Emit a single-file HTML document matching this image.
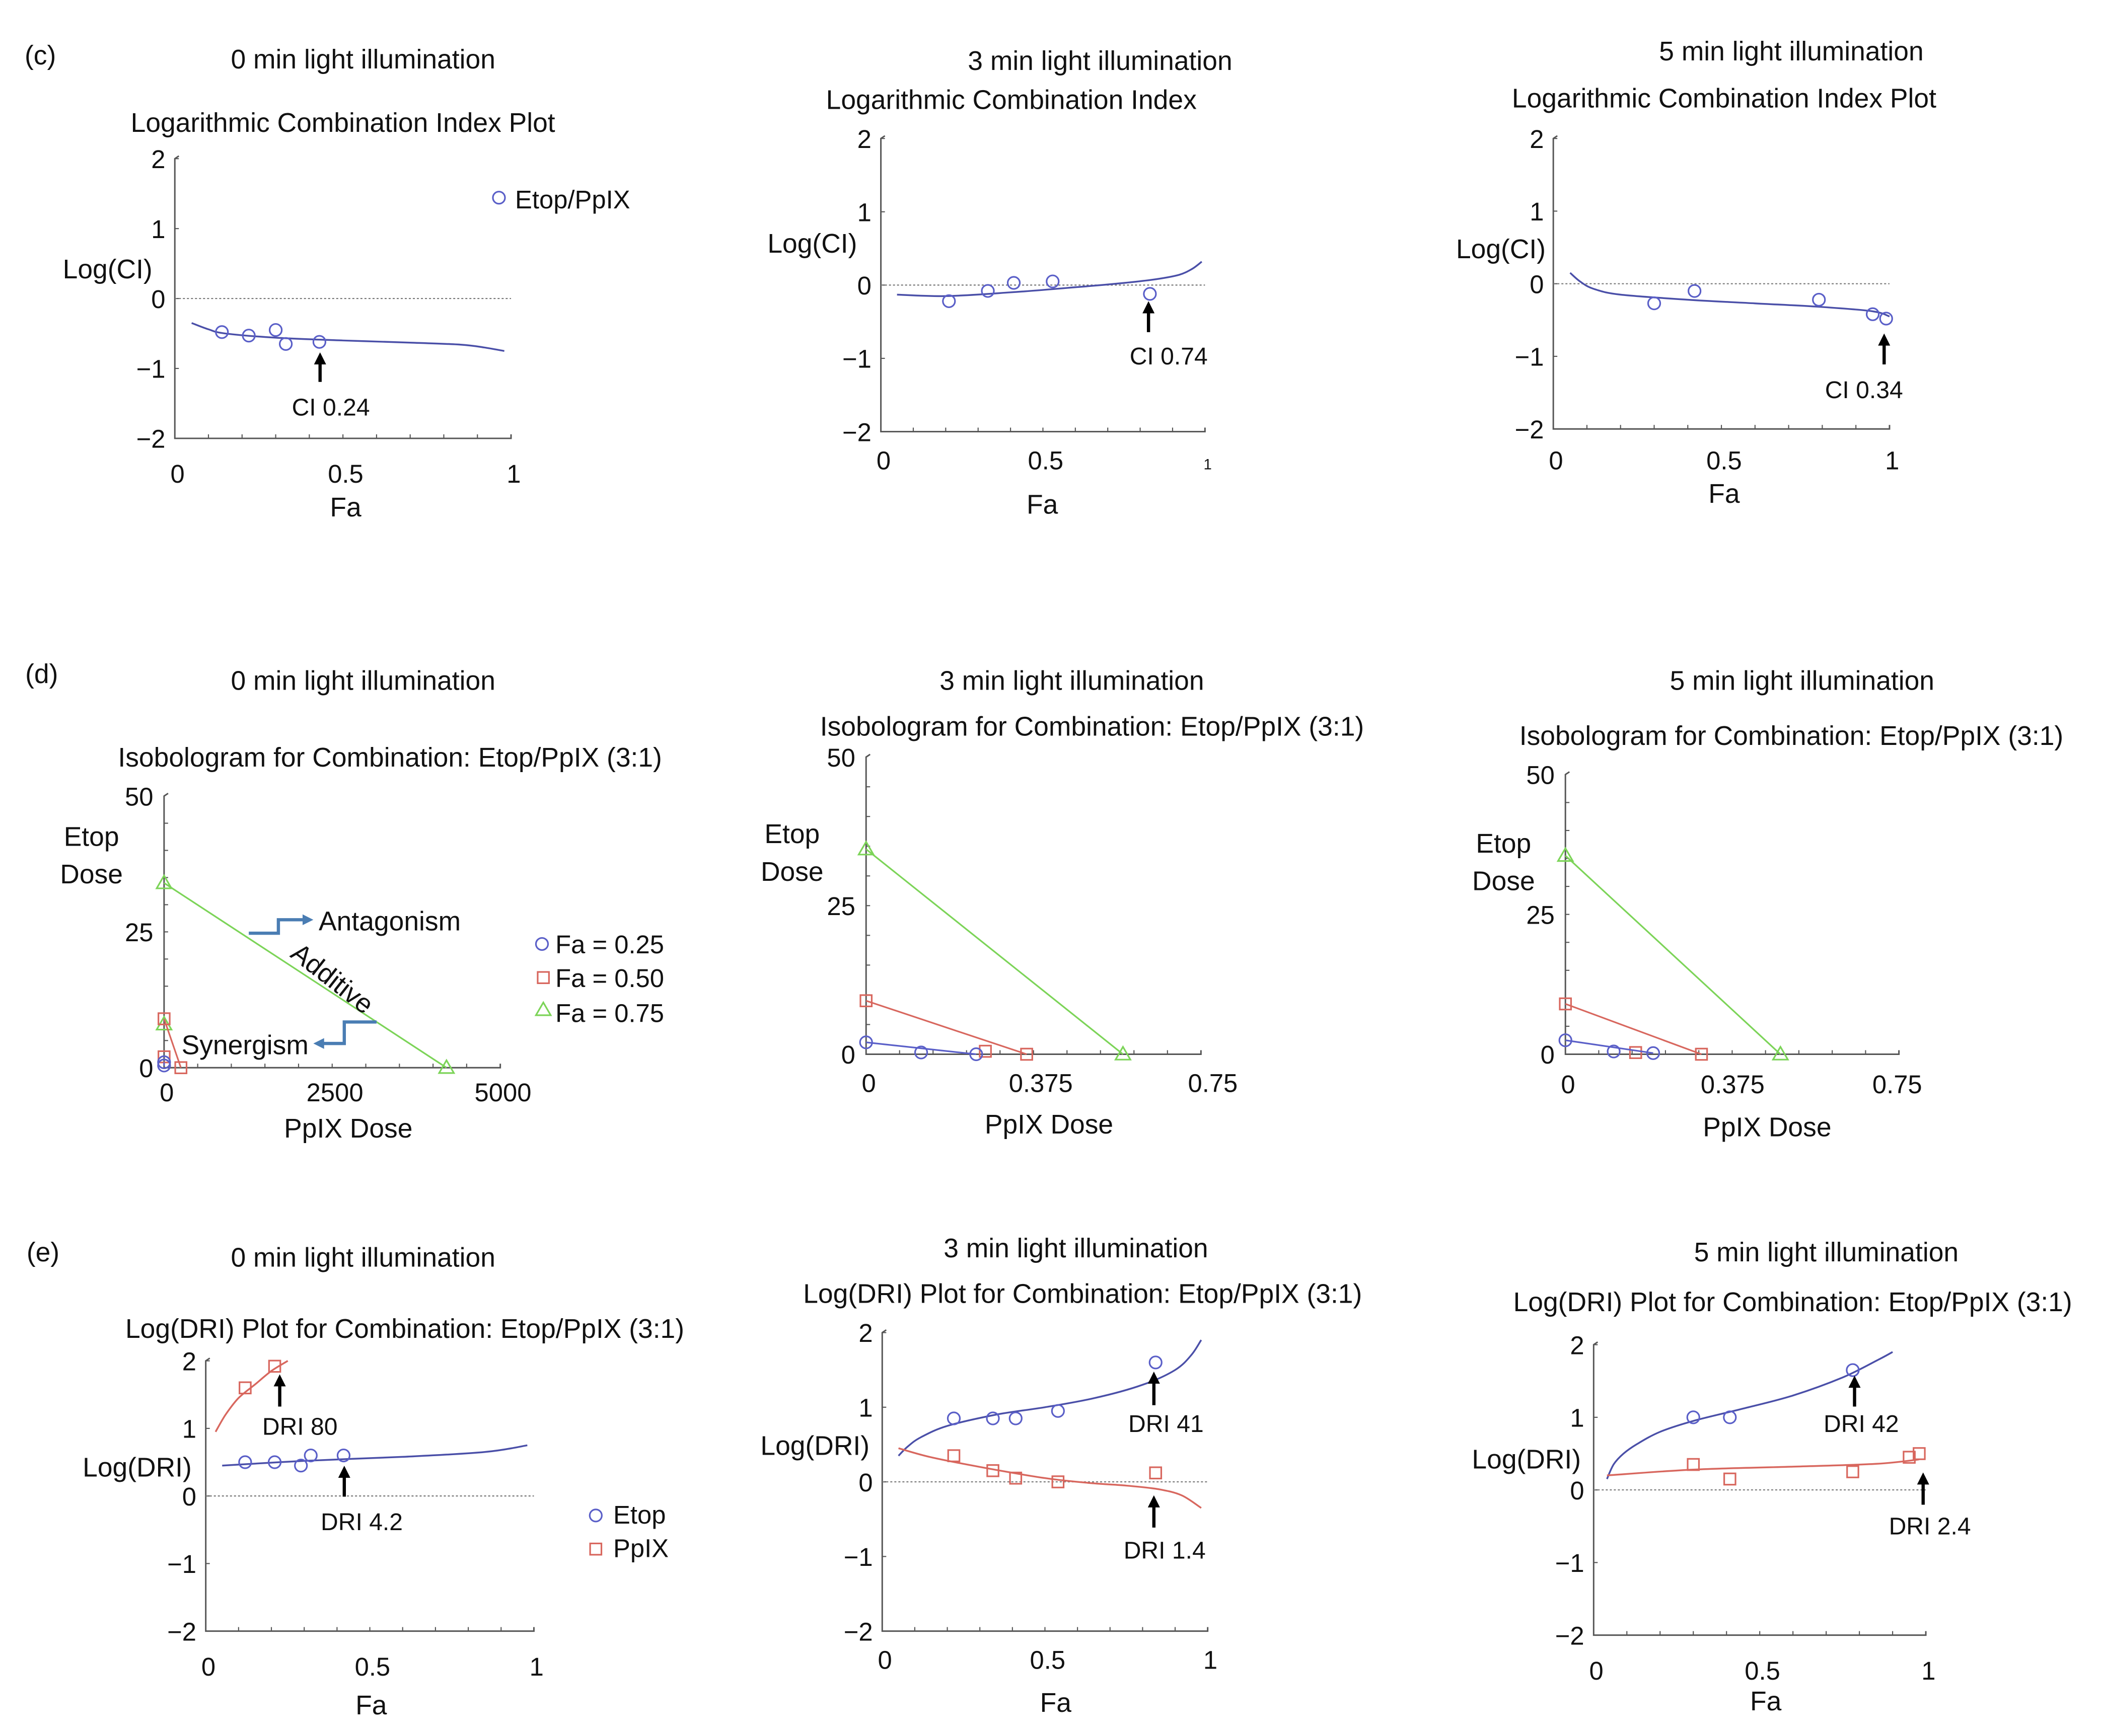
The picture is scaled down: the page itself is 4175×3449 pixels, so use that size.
<!DOCTYPE html>
<html><head><meta charset="utf-8"><style>
html,body{margin:0;padding:0;background:#fff;}
svg{display:block;}
text{font-family:"Liberation Sans",sans-serif;fill:#111;}
</style></head><body>
<svg id="fig" xmlns="http://www.w3.org/2000/svg" width="4175" height="3449" viewBox="0 0 1563 1291" preserveAspectRatio="none"></svg>
<script>
// ---- data ----
const c1Fa=[0.14,0.22,0.30,0.33,0.43];
const c1LogCI=[-0.48,-0.53,-0.45,-0.65,-0.62];
const c1CurveFa=[0.05,0.1,0.15,0.3,0.5,0.7,0.85,0.92,0.98];
const c1CurveY=[-0.35,-0.44,-0.5,-0.56,-0.6,-0.63,-0.66,-0.7,-0.75];
const c2Fa=[0.21,0.33,0.41,0.53,0.83];
const c2LogCI=[-0.22,-0.08,0.03,0.05,-0.12];
const c2CurveFa=[0.05,0.2,0.4,0.6,0.75,0.85,0.92,0.96,0.99];
const c2CurveY=[-0.13,-0.15,-0.1,-0.03,0.03,0.08,0.14,0.22,0.32];
const c3Fa=[0.30,0.42,0.79,0.95,0.99];
const c3LogCI=[-0.27,-0.1,-0.22,-0.42,-0.48];
const c3CurveFa=[0.05,0.08,0.12,0.2,0.4,0.6,0.8,0.95,1.0];
const c3CurveY=[0.15,0.03,-0.07,-0.15,-0.22,-0.27,-0.32,-0.38,-0.45];

const d1Blue=[[0,1],[0,0.4]];
const d1Red=[[0,9],[0,2],[250,0]];
const d1Green=[[0,34],[0,8],[4200,0]];
const d2Blue=[[0,2],[0.12,0.3],[0.24,0]];
const d2Red=[[0,9],[0.26,0.5],[0.35,0]];
const d2Green=[[0,34.5],[0.56,0]];
const d3Blue=[[0,2.5],[0.11,0.5],[0.2,0.2]];
const d3Red=[[0,9],[0.16,0.3],[0.31,0]];
const d3Green=[[0,35.5],[0.49,0]];

const e1BlueFa=[0.12,0.21,0.29,0.32,0.42];
const e1BlueY=[0.5,0.5,0.45,0.6,0.6];
const e1RedFa=[0.12,0.21];
const e1RedY=[1.6,1.92];
const e1BlueCurveFa=[0.05,0.3,0.6,0.85,0.98];
const e1BlueCurveY=[0.45,0.52,0.58,0.65,0.75];
const e1RedCurveFa=[0.03,0.06,0.1,0.15,0.2,0.25];
const e1RedCurveY=[0.95,1.2,1.45,1.65,1.85,2.0];
const e2BlueFa=[0.22,0.34,0.41,0.54,0.84];
const e2BlueY=[0.85,0.85,0.85,0.95,1.6];
const e2RedFa=[0.22,0.34,0.41,0.54,0.84];
const e2RedY=[0.35,0.15,0.05,0.0,0.12];
const e2BlueCurveFa=[0.05,0.08,0.12,0.2,0.35,0.5,0.65,0.8,0.9,0.95,0.98];
const e2BlueCurveY=[0.35,0.48,0.6,0.75,0.9,1.0,1.12,1.3,1.5,1.7,1.9];
const e2RedCurveFa=[0.05,0.15,0.3,0.5,0.65,0.75,0.85,0.92,0.98];
const e2RedCurveY=[0.45,0.33,0.2,0.05,-0.02,-0.05,-0.1,-0.18,-0.35];
const e3BlueCurveFa=[0.04,0.06,0.09,0.13,0.2,0.3,0.45,0.6,0.75,0.86,0.9];
const e3BlueCurveY=[0.15,0.35,0.5,0.63,0.8,0.95,1.12,1.3,1.55,1.8,1.9];
const e3BlueFa=[0.30,0.41,0.78];
const e3BlueY=[1.0,1.0,1.65];
const e3RedFa=[0.30,0.41,0.78,0.95,0.98];
const e3RedY=[0.35,0.15,0.25,0.45,0.5];
const e3RedCurveFa=[0.04,0.3,0.6,0.85,0.98];
const e3RedCurveY=[0.2,0.28,0.32,0.36,0.42];

const logTicks=[-2,-1,0,1,2];
const faTickLabels=["0","0.5","1"];
const doseTicks=[0,25,50];

const BLUE="#5a5fc8",BLUEC="#4a4fa8",RED="#d8675e",GREEN="#7cd458",ARROWB="#4a7db3";
const FT=20,FK=19,FA=20,FN=18;
const NS="http://www.w3.org/2000/svg";
const svg=document.getElementById('fig');
function el(tag,attrs,parent){const e=document.createElementNS(NS,tag);for(const k in attrs)e.setAttribute(k,attrs[k]);(parent||svg).appendChild(e);return e;}
function txt(x,y,s,size,anchor,parent,name){const t=el('text',{x:x,y:y,'font-size':size,'text-anchor':anchor||'middle'},parent);t.textContent=s;

return t;}

function axes(g,x0,x1,xmin,xmax,yTop,yBot,ymin,ymax){
  const sx=v=>x0+(v-xmin)/(xmax-xmin)*(x1-x0);
  const sy=v=>yBot-(v-ymin)/(ymax-ymin)*(yBot-yTop);
  const a=el('path',{d:`M${x0+3},${yTop-2} L${x0},${yTop} L${x0},${yBot} L${x1},${yBot} L${x1},${yBot-3}`,fill:'none',stroke:'#555','stroke-width':1.1},g);
  
  
  return {sx,sy};
}
function poly(g,xs,ys,ax,color,name){
  const P=xs.map((x,i)=>[ax.sx(x),ax.sy(ys[i])]);
  let d='M'+P[0][0].toFixed(1)+','+P[0][1].toFixed(1);
  for(let i=0;i<P.length-1;i++){
    const p0=P[i-1]||P[i],p1=P[i],p2=P[i+1],p3=P[i+2]||P[i+1];
    const c1=[p1[0]+(p2[0]-p0[0])/6,p1[1]+(p2[1]-p0[1])/6];
    const c2=[p2[0]-(p3[0]-p1[0])/6,p2[1]-(p3[1]-p1[1])/6];
    d+=` C${c1[0].toFixed(1)},${c1[1].toFixed(1)} ${c2[0].toFixed(1)},${c2[1].toFixed(1)} ${p2[0].toFixed(1)},${p2[1].toFixed(1)}`;
  }
  const p=el('path',{d:d,fill:'none',stroke:color,'stroke-width':1.3},g);
  
  
}
function marker(g,type,x,y,color,name){
  let m;
  if(type==='c')m=el('circle',{cx:x,cy:y,r:4.5,fill:'none',stroke:color,'stroke-width':1.2},g);
  else if(type==='s')m=el('rect',{x:x-4.2,y:y-4.2,width:8.4,height:8.4,fill:'none',stroke:color,'stroke-width':1.2},g);
  else m=el('path',{d:`M${x},${y-5.5} L${x+5.5},${y+4} L${x-5.5},${y+4} Z`,fill:'none',stroke:color,'stroke-width':1.2},g);
  
  
}
function pts(g,type,xs,ys,ax,color,name){xs.forEach((x,i)=>marker(g,type,ax.sx(x),ax.sy(ys[i]),color,name));}
function arrow(g,x,y1,y2,label,tx,ty){
  el('line',{x1:x,y1:y1,x2:x,y2:y2+6,stroke:'#000','stroke-width':2.4},g);
  el('path',{d:`M${x-4.5},${y2+9} L${x},${y2} L${x+4.5},${y2+9} Z`,fill:'#000'},g);
  txt(tx,ty,label,FN,'middle',g,'annotation');
}
function zeroLine(g,ax,x0,x1){
  const l=el('line',{x1:x0,x2:x1,y1:ax.sy(0),y2:ax.sy(0),stroke:'#777','stroke-width':0.8,'stroke-dasharray':'1.5,1.5'},g);
  
  
}
function xMinor(g,ax,n,yBot,xmin,xmax){for(let i=1;i<n;i++){const x=ax.sx(xmin+(xmax-xmin)*i/n);el('line',{x1:x,x2:x,y1:yBot,y2:yBot-3,stroke:'#555','stroke-width':0.8},g);}}
function group(name){const g=el('g',{});return g;}

function logPanel(name,x0,x1,yTop,yBot,tickY,faY,faX,ylab,ylx,yly,tickFirstSmall){
  const g=group(name);
  const ax=axes(g,x0,x1,0,1,yTop,yBot,-2,2);
  xMinor(g,ax,10,yBot,0,1);
  logTicks.forEach(v=>{txt(x0-7,ax.sy(v)+7,v<0?'\u2212'+(-v):String(v),FK,'end',g,'y-tick');el('line',{x1:x0,x2:x0+3,y1:ax.sy(v),y2:ax.sy(v),stroke:'#555','stroke-width':0.8},g);});
  [0,0.5,1].forEach((v,i)=>txt(ax.sx(v)+2,tickY,faTickLabels[i],(tickFirstSmall&&i===2)?11:FK,'middle',g,'x-tick'));
  txt(faX,faY,'Fa',FA,'middle',g,'x-axis-title');
  txt(ylx,yly,ylab,FA,'middle',g,'y-axis-title');
  zeroLine(g,ax,x0,x1);
  return {g,ax};
}

// headers
txt(30,48,'(c)',FA,'middle',svg,'panel-label-c');
txt(31,508,'(d)',FA,'middle',svg,'panel-label-d');
txt(32,938,'(e)',FA,'middle',svg,'panel-label-e');

// ---- Row c ----
txt(270,51,'0 min light illumination',FT,'middle',svg,'c1-title');
txt(255,98,'Logarithmic Combination Index Plot',FT,'middle',svg,'c1-subtitle');
let P=logPanel('c1-plot',130,380,118,326,359,384,257,'Log(CI)',80,207);
poly(P.g,c1CurveFa,c1CurveY,P.ax,BLUEC,'c1-fit-curve');
pts(P.g,'c',c1Fa,c1LogCI,P.ax,BLUE,'c1-point');
arrow(P.g,238,284,262,'CI 0.24',246,309);
marker(svg,'c',371,147,BLUE,'legend-marker');
txt(383,155,'Etop/PpIX',FN+1,'start',svg,'legend-entry-etop-ppix');

txt(818,52,'3 min light illumination',FT,'middle',svg,'c2-title');
txt(752,81,'Logarithmic Combination Index',FT,'middle',svg,'c2-subtitle');
P=logPanel('c2-plot',655,896,103,321,349,382,775,'Log(CI)',604,188,true);
poly(P.g,c2CurveFa,c2CurveY,P.ax,BLUEC,'c2-fit-curve');
pts(P.g,'c',c2Fa,c2LogCI,P.ax,BLUE,'c2-point');
arrow(P.g,854,247,224,'CI 0.74',869,271);

txt(1332,45,'5 min light illumination',FT,'middle',svg,'c3-title');
txt(1282,80,'Logarithmic Combination Index Plot',FT,'middle',svg,'c3-subtitle');
P=logPanel('c3-plot',1155,1405,103,319,349,374,1282,'Log(CI)',1116,192);
poly(P.g,c3CurveFa,c3CurveY,P.ax,BLUEC,'c3-fit-curve');
pts(P.g,'c',c3Fa,c3LogCI,P.ax,BLUE,'c3-point');
arrow(P.g,1401,271,248,'CI 0.34',1386,296);

// ---- Row d ----
function isoLine(g,arr,ax,color,name){
  const a=arr[0],b=arr[arr.length-1];
  const l=el('line',{x1:ax.sx(a[0]),y1:ax.sy(a[1]),x2:ax.sx(b[0]),y2:ax.sy(b[1]),stroke:color,'stroke-width':1.2},g);
  
  
}
function isoPanel(name,x0,x1,xmax,yTop,yBot,xTicks,xTickLabels,tickY,titleX,titleY,etopX,etopY,blue,red,green){
  const g=group(name);
  const ax=axes(g,x0,x1,0,xmax,yTop,yBot,0,50);
  xMinor(g,ax,10,yBot,0,xmax);
  for(let i=1;i<10;i++){const y=ax.sy(50*i/10);el('line',{x1:x0,x2:x0+3,y1:y,y2:y,stroke:'#555','stroke-width':0.8},g);}
  doseTicks.forEach(v=>txt(x0-8,ax.sy(v)+7,String(v),FK,'end',g,'y-tick'));
  xTicks.forEach((v,i)=>txt(ax.sx(v)+2,tickY,xTickLabels[i],FK,'middle',g,'x-tick'));
  txt(titleX,titleY,'PpIX Dose',FA,'middle',g,'x-axis-title');
  txt(etopX,etopY,'Etop',FA,'middle',g,'y-axis-title');
  txt(etopX,etopY+28,'Dose',FA,'middle',g,'y-axis-title');
  [[green,GREEN,'t','green'],[red,RED,'s','red'],[blue,BLUE,'c','blue']].forEach(([arr,col,t,nm])=>{
    isoLine(g,arr,ax,col,'isobole-'+nm);
    pts(g,t,arr.map(p=>p[0]),arr.map(p=>p[1]),ax,col,'point-'+nm);
  });
  return {g,ax};
}
txt(270,513,'0 min light illumination',FT,'middle',svg,'d1-title');
txt(290,570,'Isobologram for Combination: Etop/PpIX (3:1)',FT,'middle',svg,'d1-subtitle');
P=isoPanel('d1-plot',122,372,5000,592,794,[0,2500,5000],['0','2500','5000'],819,259,846,68,629,d1Blue,d1Red,d1Green);
el('path',{d:'M185,694 L207,694 L207,684 L226,684',fill:'none',stroke:ARROWB,'stroke-width':2.4},P.g);
el('path',{d:'M225,680 L233,684 L225,688 Z',fill:ARROWB},P.g);
txt(237,692,'Antagonism',FA,'start',P.g,'antagonism-label');
el('path',{d:'M280,760 L256,760 L256,776 L240,776',fill:'none',stroke:ARROWB,'stroke-width':2.4},P.g);
el('path',{d:'M241,772 L233,776 L241,780 Z',fill:ARROWB},P.g);
txt(135,784,'Synergism',FA,'start',P.g,'synergism-label');
let ad=txt(0,0,'Additive',FA,'middle',P.g,'additive-label');
ad.setAttribute('transform','translate(243,733) rotate(38)');
marker(svg,'c',403,702,BLUE,'legend-marker');
txt(413,709,'Fa = 0.25',FN+1,'start',svg,'legend-entry-fa025');
marker(svg,'s',404,727,RED,'legend-marker');
txt(413,734,'Fa = 0.50',FN+1,'start',svg,'legend-entry-fa050');
marker(svg,'t',404,751,GREEN,'legend-marker');
txt(413,760,'Fa = 0.75',FN+1,'start',svg,'legend-entry-fa075');

txt(797,513,'3 min light illumination',FT,'middle',svg,'d2-title');
txt(812,547,'Isobologram for Combination: Etop/PpIX (3:1)',FT,'middle',svg,'d2-subtitle');
isoPanel('d2-plot',644,893,0.73,563,784,[0,0.375,0.75],['0','0.375','0.75'],812,780,843,589,627,d2Blue,d2Red,d2Green);

txt(1340,513,'5 min light illumination',FT,'middle',svg,'d3-title');
txt(1332,554,'Isobologram for Combination: Etop/PpIX (3:1)',FT,'middle',svg,'d3-subtitle');
isoPanel('d3-plot',1164,1412,0.76,576,784,[0,0.375,0.75],['0','0.375','0.75'],813,1314,845,1118,634,d3Blue,d3Red,d3Green);

// ---- Row e ----
txt(270,942,'0 min light illumination',FT,'middle',svg,'e1-title');
txt(301,995,'Log(DRI) Plot for Combination: Etop/PpIX (3:1)',FT,'middle',svg,'e1-subtitle');
P=logPanel('e1-plot',153,397,1012,1213,1246,1275,276,'Log(DRI)',102,1098);
poly(P.g,e1BlueCurveFa,e1BlueCurveY,P.ax,BLUEC,'e1-etop-curve');
poly(P.g,e1RedCurveFa,e1RedCurveY,P.ax,RED,'e1-ppix-curve');
pts(P.g,'c',e1BlueFa,e1BlueY,P.ax,BLUE,'e1-etop-point');
pts(P.g,'s',e1RedFa,e1RedY,P.ax,RED,'e1-ppix-point');
arrow(P.g,208,1046,1022,'DRI 80',223,1067);
arrow(P.g,256,1113,1090,'DRI 4.2',269,1138);
marker(svg,'c',443,1127,BLUE,'legend-marker');
txt(456,1133,'Etop',FN+1,'start',svg,'legend-entry-etop');
marker(svg,'s',443,1152,RED,'legend-marker');
txt(456,1158,'PpIX',FN+1,'start',svg,'legend-entry-ppix');

txt(800,935,'3 min light illumination',FT,'middle',svg,'e2-title');
txt(805,969,'Log(DRI) Plot for Combination: Etop/PpIX (3:1)',FT,'middle',svg,'e2-subtitle');
P=logPanel('e2-plot',656,898,991,1213,1241,1273,785,'Log(DRI)',606,1082);
poly(P.g,e2BlueCurveFa,e2BlueCurveY,P.ax,BLUEC,'e2-etop-curve');
poly(P.g,e2RedCurveFa,e2RedCurveY,P.ax,RED,'e2-ppix-curve');
pts(P.g,'c',e2BlueFa,e2BlueY,P.ax,BLUE,'e2-etop-point');
pts(P.g,'s',e2RedFa,e2RedY,P.ax,RED,'e2-ppix-point');
arrow(P.g,858,1045,1020,'DRI 41',867,1065);
arrow(P.g,858,1136,1112,'DRI 1.4',866,1159);

txt(1358,938,'5 min light illumination',FT,'middle',svg,'e3-title');
txt(1333,975,'Log(DRI) Plot for Combination: Etop/PpIX (3:1)',FT,'middle',svg,'e3-subtitle');
P=logPanel('e3-plot',1185,1432,1000,1216,1249,1272,1313,'Log(DRI)',1135,1092);
poly(P.g,e3BlueCurveFa,e3BlueCurveY,P.ax,BLUEC,'e3-etop-curve');
poly(P.g,e3RedCurveFa,e3RedCurveY,P.ax,RED,'e3-ppix-curve');
pts(P.g,'c',e3BlueFa,e3BlueY,P.ax,BLUE,'e3-etop-point');
pts(P.g,'s',e3RedFa,e3RedY,P.ax,RED,'e3-ppix-point');
arrow(P.g,1379,1046,1023,'DRI 42',1384,1065);
arrow(P.g,1430,1119,1095,'DRI 2.4',1435,1141);
</script>
</body></html>
